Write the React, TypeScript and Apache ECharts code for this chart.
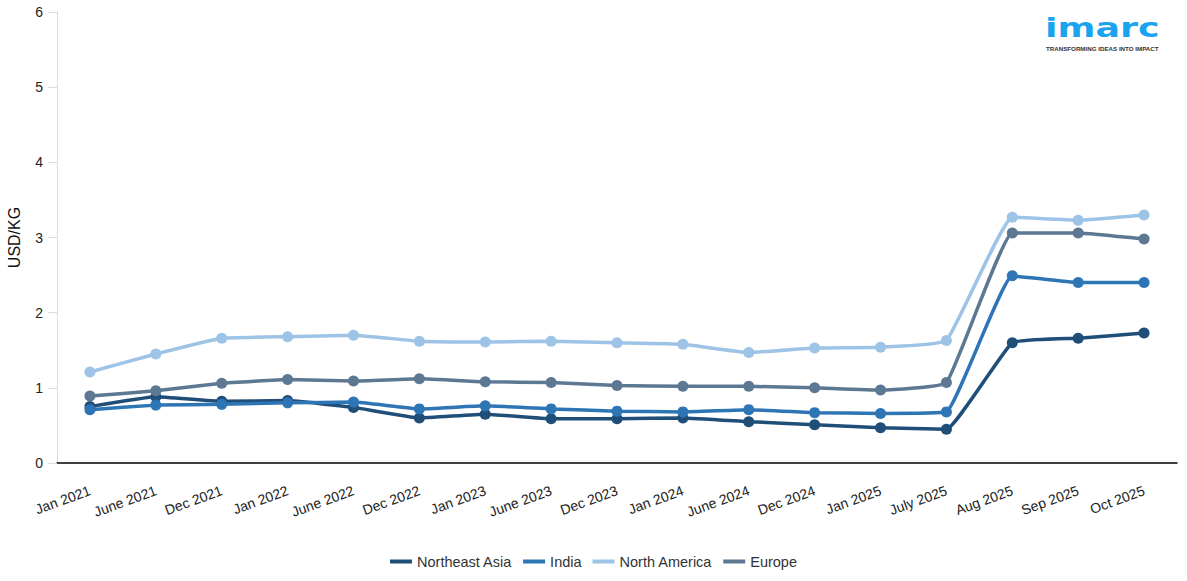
import React, { useEffect, useRef } from "react";
import * as echarts from "echarts";

const categories = [
  "Jan 2021", "June 2021", "Dec 2021", "Jan 2022", "June 2022", "Dec 2022",
  "Jan 2023", "June 2023", "Dec 2023", "Jan 2024", "June 2024", "Dec 2024",
  "Jan 2025", "July 2025", "Aug 2025", "Sep 2025", "Oct 2025",
];
const northeastAsia = [0.75, 0.88, 0.82, 0.83, 0.74, 0.6, 0.65, 0.59, 0.59, 0.6, 0.55, 0.51, 0.47, 0.45, 1.6, 1.66, 1.73];
const india = [0.71, 0.77, 0.78, 0.8, 0.81, 0.72, 0.76, 0.72, 0.69, 0.68, 0.71, 0.67, 0.66, 0.68, 2.49, 2.4, 2.4];
const northAmerica = [1.21, 1.45, 1.66, 1.68, 1.7, 1.62, 1.61, 1.62, 1.6, 1.58, 1.47, 1.53, 1.54, 1.63, 3.27, 3.23, 3.3];
const europe = [0.89, 0.96, 1.06, 1.11, 1.09, 1.12, 1.08, 1.07, 1.03, 1.02, 1.02, 1.0, 0.97, 1.07, 3.06, 3.06, 2.98];

const seriesNames = ["Northeast Asia", "India", "North America", "Europe"];
const seriesColors = ["#1f4e79", "#2e75b6", "#9dc3e6", "#5d7893"];

export default function App() {
  const ref = useRef<HTMLDivElement>(null);
  useEffect(() => {
    if (!ref.current) return;
    const chart = echarts.init(ref.current, null, { renderer: "svg" });
    const data = [northeastAsia, india, northAmerica, europe];
    chart.setOption({
      animation: false,
      textStyle: { fontFamily: "Liberation Sans, Arial, sans-serif" },
      grid: { left: 57, right: 10, top: 12, bottom: 118, outerBoundsMode: "none", containLabel: false },
      legend: {
        top: 549,
        left: "center",
        itemWidth: 22,
        itemHeight: 4,
        itemGap: 11,
        icon: "rect",
        textStyle: { fontSize: 14.5, color: "#333" },
        data: seriesNames,
      },
      xAxis: {
        type: "category",
        data: categories,
        boundaryGap: true,
        axisLine: { lineStyle: { color: "#000", width: 1.5 } },
        axisTick: { alignWithLabel: true, length: 9, lineStyle: { color: "#000" } },
        axisLabel: { rotate: 20, fontSize: 14, color: "#222", margin: 27, interval: 0 },
      },
      yAxis: {
        type: "value",
        min: 0,
        max: 6,
        interval: 1,
        name: "USD/KG",
        nameLocation: "middle",
        nameGap: 35,
        nameTextStyle: { fontSize: 16, color: "#111" },
        axisLine: { show: true, lineStyle: { color: "#ddd" } },
        axisTick: { show: true, length: 9, lineStyle: { color: "#ddd" } },
        splitLine: { show: false },
        axisLabel: { fontSize: 14, color: "#222", margin: 14 },
      },
      graphic: [
        {
          type: "text",
          x: 1045,
          y: 28,
          scaleX: 1.4,
          style: {
            x: 0,
            y: 0,
            text: "imarc",
            fontSize: 26,
            fontWeight: "bold",
            verticalAlign: "middle",
            fill: "#1aa3ef",
            fontFamily: "DejaVu Sans, sans-serif",
          },
        },
        {
          type: "text",
          x: 1046,
          y: 48,
          style: {
            x: 0,
            y: 0,
            text: "TRANSFORMING IDEAS INTO IMPACT",
            fontSize: 6.2,
            fontWeight: "bold",
            verticalAlign: "middle",
            fill: "#333",
            fontFamily: "Liberation Sans, Arial, sans-serif",
          },
        },
      ],
      series: seriesNames.map((name, i) => ({
        name,
        type: "line",
        data: data[i],
        smooth: 0.1,
        symbol: "circle",
        symbolSize: 11,
        lineStyle: { width: 3.5, color: seriesColors[i] },
        itemStyle: { color: seriesColors[i] },
      })),
    });
    return () => chart.dispose();
  }, []);
  return (
    <div
      ref={ref}
      style={{ position: "absolute", left: 0, top: 0, width: 1187, height: 581 }}
    />
  );
}
